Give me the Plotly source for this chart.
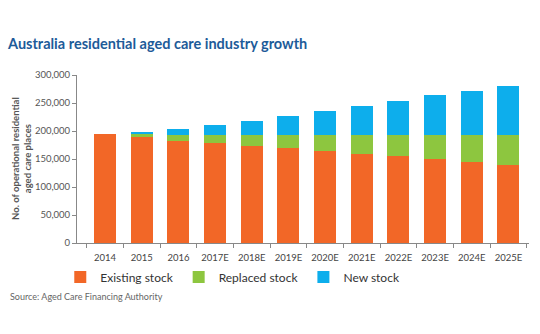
import plotly.graph_objects as go

years = ["2014", "2015", "2016", "2017E", "2018E", "2019E", "2020E",
         "2021E", "2022E", "2023E", "2024E", "2025E"]
existing_stock = [194000, 189000, 183000, 178000, 174000, 169000, 164000,
                  159000, 155000, 150000, 144000, 140000]
replaced_stock = [0, 5000, 10000, 15000, 19000, 24000, 29000,
                  34000, 38000, 43000, 49000, 53000]
new_stock = [0, 5000, 11000, 18000, 25000, 34000, 43000,
             52000, 61000, 72000, 79000, 87000]
y_ticks = [0, 50000, 100000, 150000, 200000, 250000, 300000]

ORANGE = "#f26727"
GREEN = "#8dc63f"
BLUE = "#0daeec"
FONT = "Lato"

fig = go.Figure()
for name, vals, col in [("Existing stock", existing_stock, ORANGE),
                        ("Replaced stock", replaced_stock, GREEN),
                        ("New stock", new_stock, BLUE)]:
    fig.add_trace(go.Bar(x=years, y=vals, name=name, marker_color=col,
                         marker_line_width=0, width=0.6))

fig.update_layout(
    barmode="stack",
    width=540, height=334,
    margin=dict(l=77, r=11, t=75, b=91),
    paper_bgcolor="white", plot_bgcolor="white",
    font=dict(family=FONT, color="#444444", size=10),
    title=dict(text="<b>Australia residential aged care industry growth</b>",
               x=8 / 540, xanchor="left", y=1 - 44 / 334, yanchor="middle",
               font=dict(family=FONT, size=14.5, color="#1d5b99")),
    showlegend=True,
    legend=dict(orientation="h", x=-0.037, xanchor="left",
                y=-(277 - 243) / 168, yanchor="middle",
                font=dict(family=FONT, size=12, color="#333333"),
                traceorder="normal"),
    xaxis=dict(type="category", range=[-0.765, 11.56],
               showline=True, linecolor="#888888", linewidth=1,
               ticks="outside", tickson="boundaries", ticklen=4,
               tickcolor="#888888", showgrid=False, tickangle=0,
               ticklabelstandoff=6,
               tickfont=dict(size=9.5, color="#444444")),
    yaxis=dict(range=[0, 300000], tickvals=y_ticks,
               tickformat=",d", showline=True, linecolor="#888888",
               linewidth=1, ticks="outside", ticklen=4,
               tickcolor="#888888", showgrid=False, zeroline=False,
               tickfont=dict(size=9.5, color="#555555")),
    annotations=[
        dict(text="<b>No. of operational residential<br>aged care places</b>",
             xref="paper", yref="paper", x=(21 - 77) / 452, y=0.5,
             xanchor="center", yanchor="middle", textangle=-90,
             showarrow=False, font=dict(family=FONT, size=9.5, color="#555555")),
        dict(text="Source: Aged Care Financing Authority",
             xref="paper", yref="paper", x=(8 - 77) / 452,
             y=-(296 - 243) / 168, xanchor="left", yanchor="middle",
             showarrow=False, font=dict(family=FONT, size=9, color="#666666")),
    ],
)

fig.write_html("out.html")
